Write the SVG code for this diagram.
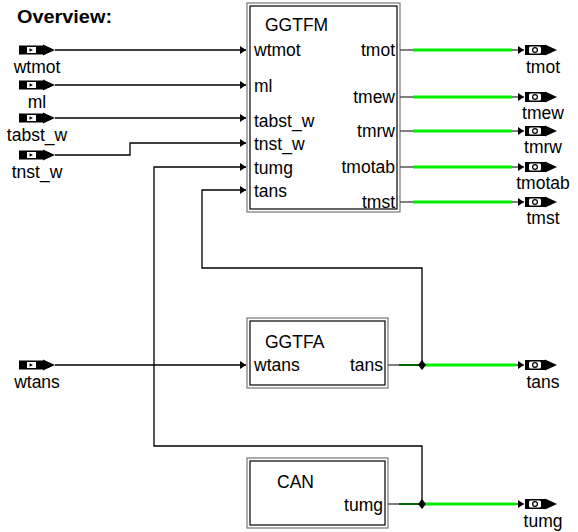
<svg xmlns="http://www.w3.org/2000/svg" width="578" height="532" viewBox="0 0 578 532">
<style>
text{font-family:"Liberation Sans",Arial,sans-serif;font-size:17.5px;fill:#000}
.t{font-weight:bold}
.w{fill:none;stroke:#000;stroke-width:1.3}
.g{fill:none;stroke:#555;stroke-width:1.5}
.gr{fill:none;stroke:#00ee00;stroke-width:3}
.dg{fill:none;stroke:#006600;stroke-width:2}
.bo{fill:#fff;stroke:#777;stroke-width:1.2}
.bi{fill:none;stroke:#000;stroke-width:1.2}
.m{text-anchor:middle}
.e{text-anchor:end}
</style>
<defs>
<marker id="a" viewBox="0 0 6 8" refX="6" refY="4" markerWidth="6" markerHeight="8" markerUnits="userSpaceOnUse" orient="auto"><path d="M0,0L6,4L0,8z" fill="#000"/></marker>
<g id="pin">
<rect x="-36" y="-4.5" width="24" height="9" fill="#000"/>
<rect x="-28" y="-3" width="9" height="6" fill="#fff"/>
<path d="M-25.5,-1.8L-22,0L-25.5,1.8z" fill="#000"/>
<path d="M-12,-5.5L0,0L-12,5.5z" fill="#000"/>
</g>
<g id="pout">
<rect x="-30" y="-5" width="20" height="10" fill="#000"/>
<rect x="-26" y="-3.5" width="12" height="7" rx="1.5" fill="#fff"/>
<circle cx="-20" cy="0" r="2.4" fill="#fff" stroke="#000" stroke-width="1.2"/>
<path d="M-10,-5.5L2,0L-10,5.5z" fill="#000"/>
</g>
</defs>
<text class="t" x="17" y="23" font-size="18" textLength="95" lengthAdjust="spacingAndGlyphs">Overview:</text>

<g id="in_wtmot"><use href="#pin" x="55" y="50"/><text class="m" x="37" y="73">wtmot</text></g>
<g id="in_ml"><use href="#pin" x="55" y="85"/><text class="m" x="37" y="108">ml</text></g>
<g id="in_tabst_w"><use href="#pin" x="55" y="118"/><text class="m" x="37" y="141">tabst_w</text></g>
<g id="in_tnst_w"><use href="#pin" x="55" y="155"/><text class="m" x="37" y="178">tnst_w</text></g>
<g id="in_wtans"><use href="#pin" x="55" y="365"/><text class="m" x="37" y="388">wtans</text></g>

<g id="GGTFM">
<rect class="bo" x="247" y="3" width="153" height="209"/>
<rect class="bi" x="250" y="6" width="147" height="203"/>
<text x="265" y="31">GGTFM</text>
<text x="254" y="56">wtmot</text>
<text x="254" y="92">ml</text>
<text x="254" y="127">tabst_w</text>
<text x="254" y="150">tnst_w</text>
<text x="254" y="174">tumg</text>
<text x="254" y="197">tans</text>
<text class="e" x="395" y="56">tmot</text>
<text class="e" x="395" y="103">tmew</text>
<text class="e" x="395" y="137">tmrw</text>
<text class="e" x="395" y="173">tmotab</text>
<text class="e" x="395" y="208">tmst</text>
</g>
<g id="GGTFA">
<rect class="bo" x="247" y="318" width="141" height="70"/>
<rect class="bi" x="250" y="321" width="135" height="64"/>
<text x="265" y="348">GGTFA</text>
<text x="254" y="371">wtans</text>
<text class="e" x="383" y="371">tans</text>
</g>
<g id="CAN">
<rect class="bo" x="247" y="458" width="141" height="70"/>
<rect class="bi" x="250" y="461" width="135" height="64"/>
<text x="277" y="488">CAN</text>
<text class="e" x="383" y="511">tumg</text>
</g>

<g id="out_tmot"><use href="#pout" x="555" y="50"/><text class="m" x="543" y="73">tmot</text></g>
<g id="out_tmew"><use href="#pout" x="555" y="97"/><text class="m" x="543" y="119">tmew</text></g>
<g id="out_tmrw"><use href="#pout" x="555" y="131"/><text class="m" x="543" y="153">tmrw</text></g>
<g id="out_tmotab"><use href="#pout" x="555" y="167"/><text class="m" x="543" y="189">tmotab</text></g>
<g id="out_tmst"><use href="#pout" x="555" y="202"/><text class="m" x="543" y="224">tmst</text></g>
<g id="out_tans"><use href="#pout" x="555" y="365"/><text class="m" x="543" y="388">tans</text></g>
<g id="out_tumg"><use href="#pout" x="555" y="504"/><text class="m" x="543" y="527">tumg</text></g>

<g id="connectors">
<path class="w" d="M55,50H246" marker-end="url(#a)"/>
<path class="w" d="M55,85H246" marker-end="url(#a)"/>
<path class="w" d="M55,118H246" marker-end="url(#a)"/>
<path class="w" d="M55,155H130V143H246" marker-end="url(#a)"/>
<path class="w" d="M55,365H246" marker-end="url(#a)"/>
<path class="w" d="M422,365V268H202V190H246" marker-end="url(#a)"/>
<path class="w" d="M422,504V446H154V167H246" marker-end="url(#a)"/>

<path class="g" d="M400,50H524" marker-end="url(#a)"/>
<path class="g" d="M400,97H524" marker-end="url(#a)"/>
<path class="g" d="M400,131H524" marker-end="url(#a)"/>
<path class="g" d="M400,167H524" marker-end="url(#a)"/>
<path class="g" d="M400,202H524" marker-end="url(#a)"/>
<path class="gr" d="M413,50H512M413,97H512M413,131H512M413,167H512M413,202H512"/>

<path class="g" d="M388,365H524" marker-end="url(#a)"/>
<path class="dg" d="M399,365H422"/>
<path class="gr" d="M424,365H516"/>
<path class="g" d="M388,504H524" marker-end="url(#a)"/>
<path class="dg" d="M399,504H422"/>
<path class="gr" d="M424,504H516"/>
<path d="M422,360L426,365L422,370L418,365z" fill="#000"/>
<path d="M422,499L426,504L422,509L418,504z" fill="#000"/>
</g>
</svg>
